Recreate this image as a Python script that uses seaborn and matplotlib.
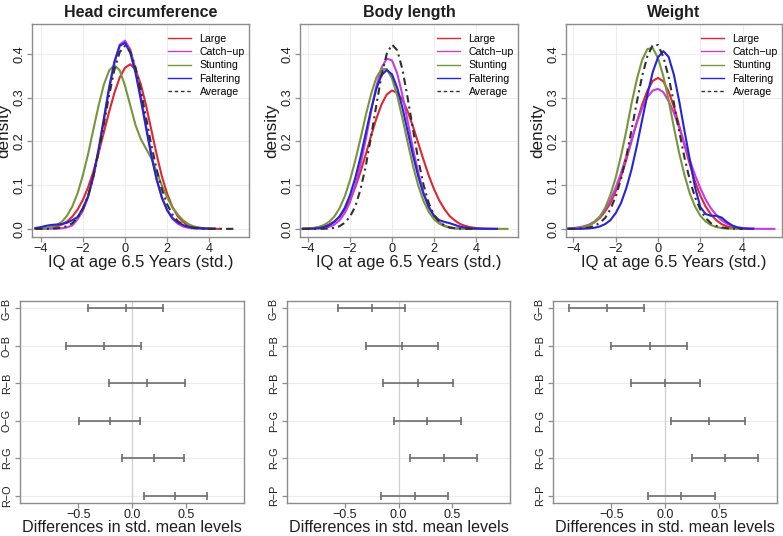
import numpy as np
import pandas as pd
import matplotlib
matplotlib.use("Agg")
import matplotlib.pyplot as plt
from matplotlib.lines import Line2D
import seaborn as sns

plt.rcParams['font.family'] = ['Liberation Sans', 'DejaVu Sans']

nan = np.nan
# common grid of IQ values (std.) at which the densities were read
iq_grid = [-4.25, -4.0, -3.75, -3.5, -3.25, -3.0, -2.75, -2.5, -2.25, -2.0,
           -1.75, -1.5, -1.25, -1.0, -0.75, -0.5, -0.25, 0.0, 0.25, 0.5,
           0.75, 1.0, 1.25, 1.5, 1.75, 2.0, 2.25, 2.5, 2.75, 3.0,
           3.25, 3.5, 3.75, 4.0, 4.25, 4.5, 4.75, 5.0, 5.25, 5.5]

groups = ["Large", "Catch\u2212up", "Stunting", "Faltering", "Average"]

# ---- Head circumference densities
head_large = [.0003, .0007, .0015, .003, .0055, .010, .017, .028, .044, .066,
              .095, .131, .174, .221, .268, .311, .346, .368, .376, .364,
              .330, .282, .226, .170, .120, .080, .050, .029, .016, .0085,
              .0045, .0025, .0012, .0006, .0003, .0001, nan, nan, nan, nan]
head_catch = [.0001, .0001, .0002, .0004, .0008, .0014, .0034, .0079, .022, .041,
              .072, .118, .178, .247, .319, .380, .421, .430, .410, .364,
              .303, .235, .169, .114, .072, .042, .023, .012, .0056, .0025,
              .001, .0005, .0002, .0001, .0001, nan, nan, nan, nan, nan]
head_stunt = [.0003, .0008, .0019, .0042, .0085, .016, .030, .051, .081, .122,
              .171, .227, .282, .330, .362, .374, .362, .327, .282, .237,
              .205, .183, .161, .131, .099, .072, .049, .033, .020, .011,
              .006, .003, .0015, .0007, .0003, nan, nan, nan, nan, nan]
head_falter = [.002, .004, .007, .009, .010, .011, .014, .020, .027, .047,
               .075, .122, .183, .253, .324, .382, .418, .425, .402, .356,
               .295, .230, .167, .113, .071, .043, .025, .015, .009, .005,
               .003, .002, .001, .0005, .0002, nan, nan, nan, nan, nan]
head_avg = [.0001, .0001, .0002, .0005, .0012, .0029, .0063, .013, .025, .046,
            .076, .120, .176, .240, .306, .364, .404, .418, .405, .369,
            .316, .254, .191, .136, .090, .056, .033, .018, .0095, .0047,
            .0022, .001, .0005, .0003, .0002, .0001, .0001, .0001, .0001, nan]

# ---- Body length densities
body_large = [.0003, .0007, .0014, .0029, .0055, .0098, .017, .028, .044, .066,
              .095, .130, .170, .212, .251, .284, .307, .316, .311, .295,
              .268, .234, .196, .158, .122, .091, .065, .045, .029, .019,
              .011, .0066, .0037, .002, .001, .0005, .0002, .0001, nan, nan]
body_catch = [.0001, .0001, .0003, .0009, .002, .0046, .0096, .0194, .036, .061,
              .099, .147, .204, .267, .325, .368, .389, .385, .355, .305,
              .245, .183, .129, .083, .051, .029, .015, .0075, .0035, .0015,
              .0006, .0002, .0001, .0001, nan, nan, nan, nan, nan, nan]
body_stunt = [.0004, .0009, .0021, .0043, .0087, .016, .028, .047, .074, .111,
              .156, .206, .259, .307, .345, .365, .365, .344, .304, .252,
              .197, .144, .099, .064, .039, .022, .012, .006, .003, .0013,
              .0006, .0003, .0002, .0001, .0001, .0001, .0001, .0001, .0001, .0001]
body_falter = [.0001, .0003, .0008, .0018, .0039, .008, .016, .028, .048, .077,
               .116, .164, .218, .272, .319, .351, .363, .353, .322, .276,
               .222, .168, .120, .080, .050, .030, .020, .016, .013, .009,
               .005, .003, .0015, .0008, .0004, .0002, .0001, .0001, nan, nan]
body_avg = [.0001, .0001, .0001, .0001, .0003, .001, .0025, .006, .014, .028,
            .051, .090, .143, .210, .281, .350, .400, .421, .408, .364,
            .298, .227, .158, .101, .059, .032, .016, .0075, .003, .0013,
            .0005, .0002, .0001, .0001, nan, nan, nan, nan, nan, nan]

# ---- Weight densities
weight_large = [.0007, .0013, .0026, .0048, .0088, .015, .025, .040, .059, .086,
                .119, .158, .201, .244, .284, .316, .338, .345, .337, .314,
                .279, .236, .191, .148, .108, .076, .051, .033, .020, .011,
                .006, .003, .0015, .0007, .0003, .0001, nan, nan, nan, nan]
weight_catch = [.001, .002, .0035, .006, .010, .017, .028, .044, .066, .094,
                .128, .166, .205, .243, .276, .301, .316, .320, .312, .292,
                .265, .231, .194, .157, .123, .093, .067, .047, .032, .020,
                .012, .007, .004, .002, .001, .0005, .0002, .0001, .0001, .0001]
weight_stunt = [.0003, .0008, .0018, .004, .008, .0157, .028, .048, .078, .117,
                .167, .224, .287, .342, .386, .411, .413, .390, .349, .294,
                .232, .173, .123, .081, .051, .030, .017, .0088, .0044, .002,
                .001, .0005, .0002, .0001, nan, nan, nan, nan, nan, nan]
weight_falter = [.0001, .0001, .0002, .0005, .0012, .0027, .0056, .011, .020, .036,
                 .059, .093, .136, .190, .249, .307, .358, .392, .406, .393,
                 .352, .292, .224, .159, .095, .050, .034, .030, .030, .026,
                 .016, .008, .003, .0012, .0005, .0002, nan, nan, nan, nan]
weight_avg = [.0001, .0002, .0006, .0014, .0033, .0069, .014, .025, .045, .074,
              .114, .165, .226, .290, .349, .395, .420, .420, .393, .347,
              .287, .223, .163, .112, .072, .044, .025, .013, .007, .0035,
              .0016, .0007, .0003, .0001, nan, nan, nan, nan, nan, nan]

# ---- Pairwise differences in std. mean levels (lower, estimate, upper), top to bottom
head_comps = ["G\u2212B", "O\u2212B", "R\u2212B", "O\u2212G", "R\u2212G", "R\u2212O"]
head_lwr = [-0.41, -0.61, -0.21, -0.49, -0.09, 0.11]
head_diff = [-0.06, -0.26, 0.14, -0.205, 0.20, 0.40]
head_upr = [0.285, 0.083, 0.495, 0.076, 0.487, 0.694]

body_comps = ["G\u2212B", "P\u2212B", "R\u2212B", "P\u2212G", "R\u2212G", "R\u2212P"]
body_lwr = [-0.56, -0.306, -0.147, -0.04, 0.11, -0.16]
body_diff = [-0.25, 0.03, 0.179, 0.27, 0.42, 0.15]
body_upr = [0.06, 0.366, 0.508, 0.58, 0.73, 0.46]

weight_comps = ["G\u2212B", "P\u2212B", "R\u2212B", "P\u2212G", "R\u2212G", "R\u2212P"]
weight_lwr = [-0.892, -0.50, -0.32, 0.06, 0.25, -0.159]
weight_diff = [-0.542, -0.143, 0.003, 0.405, 0.555, 0.153]
weight_upr = [-0.192, 0.206, 0.324, 0.745, 0.86, 0.464]

titles = ["Head circumference", "Body length", "Weight"]

colors = {"Large": "#E0262E", "Catch\u2212up": "#C53BEA", "Stunting": "#76963A",
          "Faltering": "#2424D8", "Average": "#303030"}
dashes = {"Large": "", "Catch\u2212up": "", "Stunting": "", "Faltering": "",
          "Average": (3.5, 2.0, 1.0, 2.0)}

dens_sets = [
    [head_large, head_catch, head_stunt, head_falter, head_avg],
    [body_large, body_catch, body_stunt, body_falter, body_avg],
    [weight_large, weight_catch, weight_stunt, weight_falter, weight_avg],
]
ci_sets = [
    (head_comps, head_lwr, head_diff, head_upr),
    (body_comps, body_lwr, body_diff, body_upr),
    (weight_comps, weight_lwr, weight_diff, weight_upr),
]

W, H = 783, 536
fig = plt.figure(figsize=(W / 100, H / 100), dpi=100)

def px_axes(l, r, t, b):
    return fig.add_axes([l / W, (H - b) / H, (r - l) / W, (b - t) / H])

top_boxes = [(32, 249), (300, 518), (566, 782)]
top_xlims = [(-4.41, 5.88), (-4.38, 6.0), (-4.35, 5.86)]
bot_boxes = [(20, 244), (287, 510), (553, 777)]

SPINE = "#8C8C8C"
TXT = "#1E1E1E"
GRID = "#EDEDED"

def style_axes(ax, size):
    for s in ax.spines.values():
        s.set_color(SPINE)
        s.set_linewidth(1.0)
    ax.tick_params(axis='both', colors=SPINE, labelcolor=TXT, length=3.5,
                   width=0.9, labelsize=size, pad=1.0)
    ax.set_facecolor("white")

for i in range(3):
    l, r = top_boxes[i]
    ax = px_axes(l, r, 24, 237)
    rows = []
    for g, vals in zip(groups, dens_sets[i]):
        for xv, yv in zip(iq_grid, vals):
            rows.append((xv, yv, g))
    df = pd.DataFrame(rows, columns=["iq", "density", "group"]).dropna()
    for xv in [-4, -2, 0, 2, 4]:
        ax.axvline(xv, color=GRID, lw=0.8, zorder=0)
    for yv in [0.0, 0.1, 0.2, 0.3, 0.4]:
        ax.axhline(yv, color=GRID, lw=0.8, zorder=0)
    sns.lineplot(data=df, x="iq", y="density", hue="group", style="group",
                 palette=colors, dashes=dashes, estimator=None, sort=True,
                 linewidth=1.5, legend=False, ax=ax)
    ax.set_xlim(*top_xlims[i])
    ax.set_ylim(-0.0185, 0.468)
    ax.set_xticks([-4, -2, 0, 2, 4])
    ax.set_yticks([0.0, 0.1, 0.2, 0.3, 0.4])
    ax.set_yticklabels(["0.0", "0.1", "0.2", "0.3", "0.4"], rotation=90, va="center")
    style_axes(ax, 9.2)
    ax.set_title(titles[i], fontsize=11.5, fontweight="bold", color=TXT, pad=5)
    ax.set_xlabel("IQ at age 6.5 Years (std.)", fontsize=12, color=TXT)
    ax.set_ylabel("density", fontsize=12.3, color=TXT)
    ax.xaxis.set_label_coords(0.5, -17.5 / 213)
    ax.yaxis.set_label_coords(-21 / (r - l), 0.5)
    handles = [Line2D([0], [0], color=colors[g], lw=1.0,
                      linestyle=(0, (2.5, 2.0)) if g == "Average" else "-")
               for g in groups]
    ax.legend(handles, groups, loc="upper right", frameon=False, fontsize=7.6,
              handlelength=2.2, handletextpad=0.8, labelspacing=0.32,
              borderaxespad=0.0, bbox_to_anchor=(1.0, 0.975))

GRAY = "#6E6E6E"
for i in range(3):
    l, r = bot_boxes[i]
    ax = px_axes(l, r, 301, 503)
    comps, lwr, dif, upr = ci_sets[i]
    n = len(comps)
    pos = list(range(n, 0, -1))
    rows = []
    for c, p, a, m, b in zip(comps, pos, lwr, dif, upr):
        rows += [(c, p, a), (c, p, m), (c, p, b)]
    df = pd.DataFrame(rows, columns=["comp", "pos", "value"])
    for p in pos:
        ax.axhline(p, color="#EBEBEB", lw=0.8, zorder=0)
    ax.axvline(0, color="#CFCFCF", lw=0.9, zorder=0)
    sns.lineplot(data=df, x="value", y="pos", units="comp", estimator=None,
                 color=GRAY, linewidth=1.2, sort=True, ax=ax, legend=False)
    sns.scatterplot(data=df, x="value", y="pos", marker="|", s=34,
                    color=GRAY, linewidth=1.2, ax=ax, legend=False)
    ax.set_xlim(-1.04, 1.04)
    ax.set_ylim(0.8, n + 0.2)
    ax.set_xticks([-0.5, 0.0, 0.5])
    ax.set_xticklabels(["\u22120.5", "0.0", "0.5"])
    ax.set_yticks(pos)
    ax.set_yticklabels(comps, rotation=90, va="center")
    style_axes(ax, 9)
    ax.tick_params(axis='y', pad=2.5, labelsize=7.8)
    ax.set_xlabel("Differences in std. mean levels", fontsize=11.6, color=TXT)
    ax.set_ylabel("")
    ax.xaxis.set_label_coords(0.5, -17 / 202)

fig.savefig("out.png", dpi=100, facecolor="white")
